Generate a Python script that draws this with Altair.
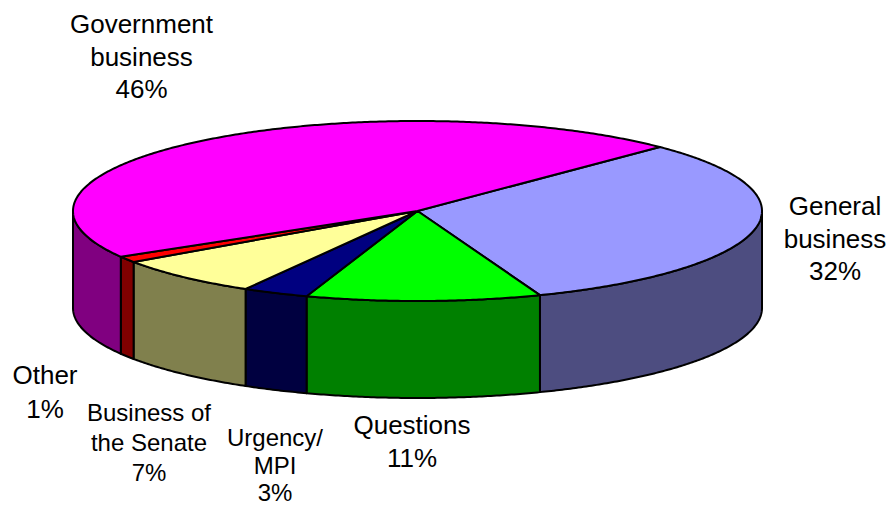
import math
import altair as alt
import pandas as pd

categories = ["General business", "Questions", "Urgency/MPI", "Business of the Senate", "Other", "Government business"]
shares = [31.8, 11.0, 3.1, 7.1, 1.1, 45.9]
top_colors = ["#9999FF", "#00FF00", "#000080", "#FFFF99", "#FF0000", "#FF00FF"]
side_colors = ["#4D4D80", "#008000", "#000040", "#80804D", "#800000", "#800080"]

label_lines = ["Government", "business", "46%", "General", "business", "32%", "Questions", "11%",
               "Urgency/", "MPI", "3%", "Business of", "the Senate", "7%", "Other", "1%"]
label_sizes = [26, 26, 26, 26, 26, 26, 26, 26, 24, 24, 24, 24, 24, 24, 26, 26]
label_x = [141.5, 141.5, 141.5, 835, 835, 835, 412, 412, 275, 275, 275, 149, 149, 149, 45, 45]
label_y = [33, 66, 98, 215, 248, 280, 434, 467, 446, 474, 501, 421, 451, 481, 384, 418]

CX, CY, RX, RY, DEPTH = 417.5, 211, 344.5, 90, 97
START = 44.7
W, H = 880, 491

xs = alt.Scale(domain=[8, 8 + W], nice=False, zero=False)
ys = alt.Scale(domain=[8 + H, 8], nice=False, zero=False)


def rim(a, drop=0):
    r = math.radians(a)
    return CX + RX * math.sin(r), CY - RY * math.cos(r) + drop


def arc(a0, a1, drop=0):
    n = max(2, int(abs(a1 - a0) * 2))
    return [rim(a0 + (a1 - a0) * i / n, drop) for i in range(n + 1)]


def poly(points, fill, width=2):
    df = pd.DataFrame(points, columns=["x", "y"])
    df["i"] = range(len(df))
    return alt.Chart(df).mark_line(
        fill=fill, stroke="#000000", strokeWidth=width, strokeJoin="round", interpolate="linear", clip=False
    ).encode(
        x=alt.X("x:Q", scale=xs, axis=None),
        y=alt.Y("y:Q", scale=ys, axis=None),
        order="i:Q",
    )


sides, tops = [], []
a = START
for share, tc, sc in zip(shares, top_colors, side_colors):
    b = a + share * 3.6
    lo, hi = max(a, 90), min(b, 270)
    if lo < hi:
        pts = arc(lo, hi) + arc(hi, lo, DEPTH)
        sides.append(poly(pts + pts[:1], sc))
    tops.append(poly([(CX, CY)] + arc(a, b) + [(CX, CY)], tc))
    a = b

labels = pd.DataFrame({"t": label_lines, "s": label_sizes, "x": label_x, "y": label_y})
text_layers = [
    alt.Chart(labels[labels.s == s]).mark_text(
        font="Liberation Sans", fontSize=s, color="#000000", align="center", baseline="alphabetic"
    ).encode(
        x=alt.X("x:Q", scale=xs, axis=None),
        y=alt.Y("y:Q", scale=ys, axis=None),
        text="t:N",
    )
    for s in (26, 24)
]

chart = alt.layer(*sides, *tops, *text_layers).properties(
    width=W, height=H, padding=0, background="#FFFFFF"
).configure_view(stroke=None)

chart.save("out.html", embed_options={"renderer": "svg", "actions": False})
